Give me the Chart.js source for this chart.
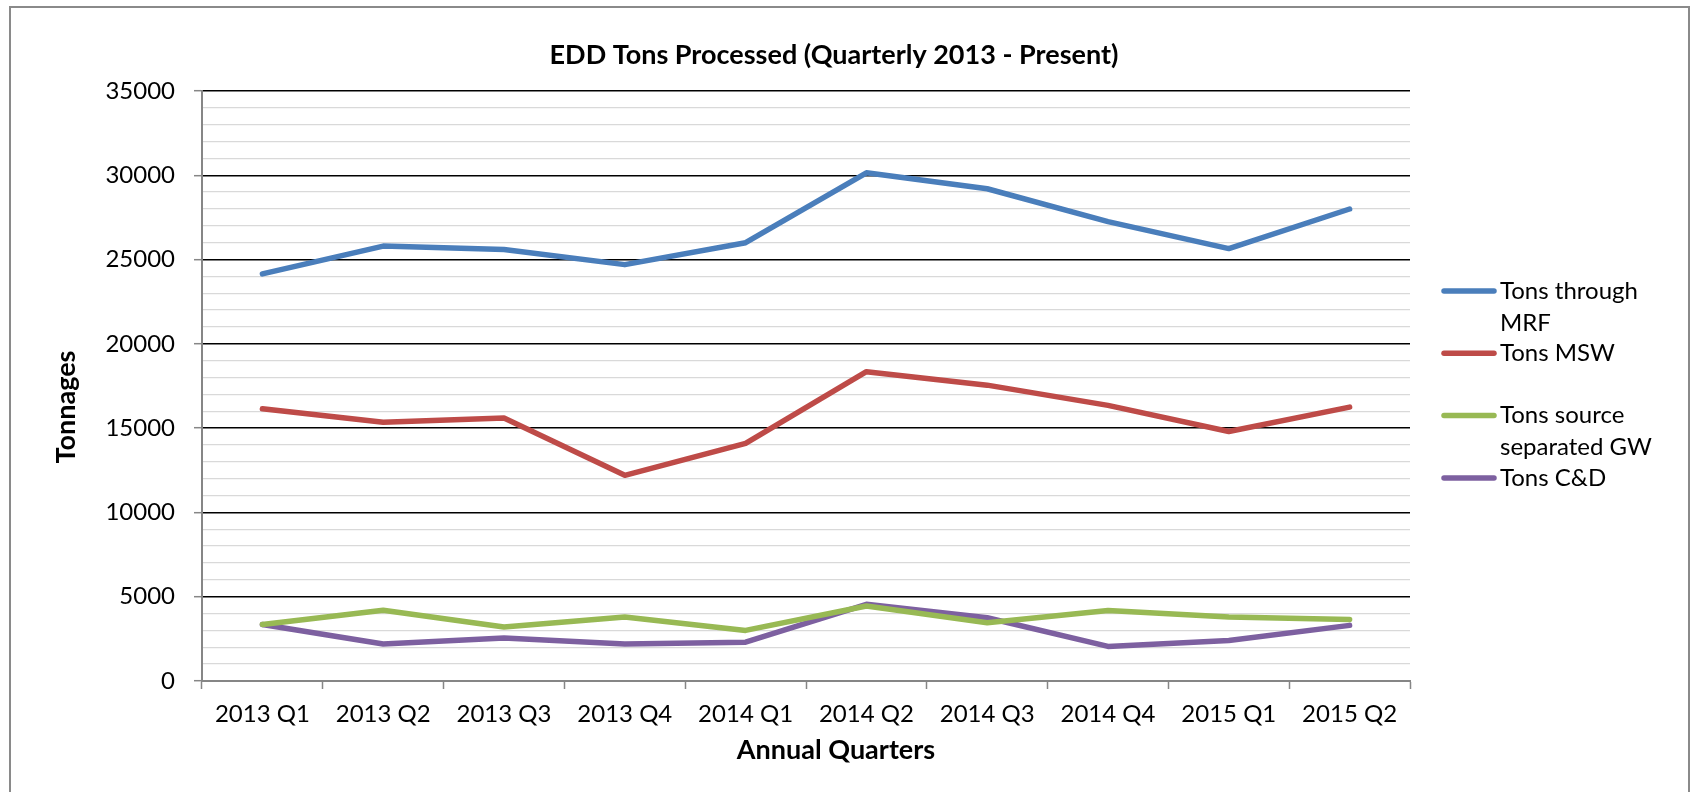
<!DOCTYPE html>
<html>
<head>
<meta charset="utf-8">
<title>EDD Tons Processed</title>
<script src="https://cdn.jsdelivr.net/npm/chart.js@4.4.0/dist/chart.umd.min.js"></script>
<style>
    html, body { margin: 0; padding: 0; background: #fff; overflow: hidden; }
    canvas { display: block; }
</style>
</head>
<body>
<canvas id="tonsChart" width="1695" height="792"></canvas>
<script>
// ===== dados =====
const quarters = ['2013 Q1', '2013 Q2', '2013 Q3', '2013 Q4', '2014 Q1', '2014 Q2', '2014 Q3', '2014 Q4', '2015 Q1', '2015 Q2'];
const tonsMrf = [24150, 25800, 25600, 24700, 26000, 30150, 29200, 27250, 25650, 28000];
const tonsMsw = [16150, 15350, 15600, 12200, 14100, 18350, 17550, 16350, 14800, 16250];
const tonsGreenWaste = [3350, 4200, 3200, 3800, 3000, 4450, 3450, 4180, 3800, 3650];
const tonsCnd = [3350, 2200, 2550, 2200, 2300, 4550, 3750, 2050, 2400, 3300];
const seriesLabels = ['Tons through MRF', 'Tons MSW', 'Tons source separated GW', 'Tons C&D'];
const seriesColors = ['#4a7ebb', '#be4b48', '#98b954', '#7d60a0'];
const yTicksMajor = 5000;

const chartTitle = 'EDD Tons Processed (Quarterly 2013 - Present)';
const xTitle = 'Annual Quarters';
const yTitle = 'Tonnages';

const FONT = 'Lato, "Open Sans", sans-serif';
Chart.defaults.font.family = FONT;
Chart.defaults.color = '#000';

// moldura, títulos e legenda desenhados à mão (layout tipo Excel)
const excelDecor = {
    id: 'excelDecor',
    beforeDraw(chart) {
        const ctx = chart.ctx;
        ctx.save();
        ctx.fillStyle = '#fff';
        ctx.fillRect(0, 0, chart.width, chart.height);
        ctx.strokeStyle = '#8a8a8a';
        ctx.lineWidth = 2;
        ctx.strokeRect(10, 7, 1679, 800);
        ctx.restore();
    },
    afterDraw(chart) {
        const ctx = chart.ctx;
        ctx.save();
        ctx.fillStyle = '#000';
        ctx.textAlign = 'center';
        ctx.textBaseline = 'middle';

        ctx.font = `bold 27px ${FONT}`;
        ctx.fillText(chartTitle, 834, 55);

        ctx.font = `bold 27px ${FONT}`;
        ctx.fillText(xTitle, 836, 750);

        ctx.save();
        ctx.translate(66, 407);
        ctx.rotate(-Math.PI / 2);
        ctx.fillText(yTitle, 0, 0);
        ctx.restore();

        // legenda
        ctx.font = `24px ${FONT}`;
        ctx.textAlign = 'left';
        const slot = 62.3, lineH = 32, top = 291, maxW = 172;
        chart.data.datasets.forEach((ds, i) => {
            const words = ds.label.split(' ');
            const lines = [];
            let cur = '';
            words.forEach(w => {
                const test = cur ? cur + ' ' + w : w;
                if (cur && ctx.measureText(test).width > maxW) { lines.push(cur); cur = w; }
                else cur = test;
            });
            if (cur) lines.push(cur);
            const y0 = top + i * slot;
            ctx.strokeStyle = ds.borderColor;
            ctx.lineWidth = 5.5;
            ctx.lineCap = 'round';
            ctx.beginPath();
            ctx.moveTo(1444, y0);
            ctx.lineTo(1494, y0);
            ctx.stroke();
            lines.forEach((ln, j) => ctx.fillText(ln, 1500, y0 + j * lineH));
        });
        ctx.restore();
    }
};

const seriesData = [tonsMrf, tonsMsw, tonsGreenWaste, tonsCnd];

new Chart(document.getElementById('tonsChart'), {
    type: 'line',
    data: {
        labels: quarters,
        datasets: seriesData.map((d, i) => ({
            label: seriesLabels[i],
            data: d,
            borderColor: seriesColors[i],
            backgroundColor: seriesColors[i],
            borderWidth: 5.5,
            pointRadius: 0,
            tension: 0,
            borderCapStyle: 'round',
            borderJoinStyle: 'round'
        }))
    },
    options: {
        responsive: false,
        animation: false,
        devicePixelRatio: 1,
        layout: { padding: { left: 20, right: 285, top: 91, bottom: 20 } },
        plugins: {
            legend: { display: false },
            title: { display: false },
            tooltip: { enabled: false }
        },
        scales: {
            x: {
                offset: true,
                afterFit: (scale) => { scale.height = 792 - 681 - 20; },
                grid: {
                    offset: true,
                    drawOnChartArea: false,
                    tickLength: 8,
                    tickColor: '#868686',
                    tickWidth: 1.5
                },
                border: { color: '#868686', width: 2 },
                ticks: { autoSkip: false, maxRotation: 0, padding: 11, font: { size: 24 } }
            },
            y: {
                min: 0,
                max: 35000,
                afterFit: (scale) => { scale.width = 202 - 20; },
                grid: {
                    color: (c) => c.tick.value === 0 ? 'rgba(0,0,0,0)' : (c.tick.value % yTicksMajor === 0 ? '#000' : '#d9d9d9'),
                    lineWidth: (c) => c.tick.value % yTicksMajor === 0 ? 1.4 : 1.3,
                    tickColor: (c) => c.tick.value % yTicksMajor === 0 ? '#868686' : 'rgba(0,0,0,0)',
                    tickLength: 8,
                    tickWidth: 1.5
                },
                border: { color: '#868686', width: 2 },
                ticks: {
                    stepSize: 1000,
                    autoSkip: false,
                    padding: 19,
                    font: { size: 24 },
                    callback: (v) => v % yTicksMajor === 0 ? String(v) : ''
                }
            }
        }
    },
    plugins: [excelDecor]
});
</script>
</body>
</html>
